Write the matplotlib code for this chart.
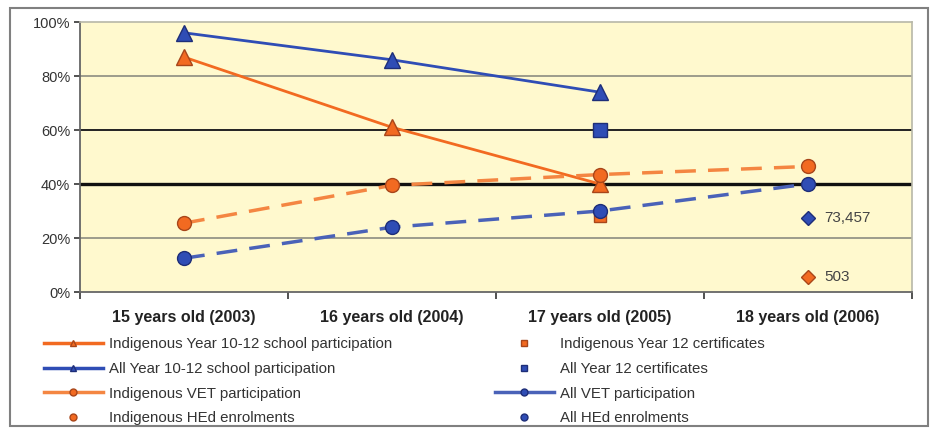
import matplotlib
matplotlib.use("Agg")
import matplotlib.pyplot as plt
from matplotlib.lines import Line2D
from matplotlib.patches import Rectangle
import numpy as np

plt.rcParams['font.family'] = ['Liberation Sans', 'DejaVu Sans']

categories = ["15 years old (2003)", "16 years old (2004)", "17 years old (2005)", "18 years old (2006)"]
y_ticks = [0, 20, 40, 60, 80, 100]

ind_y1012 = [87, 61, 40]           # 2003-2005
all_y1012 = [96, 86, 74]           # 2003-2005
ind_y12_cert = [28]                # 2005
all_y12_cert = [60]                # 2005
ind_vet = [25.5, 39.5, 43.5, 46.5] # 2003-2006
all_vet = [12.5, 24, 30, 40]       # 2003-2006
ind_hed = [5.5]                    # 2006
all_hed = [27.5]                   # 2006
ind_hed_label = "503"
all_hed_label = "73,457"

ORANGE = "#F26A21"
ORANGE_L = "#F48642"
BLUE = "#2F4DB5"
BLUE_L = "#4A62B8"
EDGE_O = "#A8461A"
EDGE_B = "#1E2E78"

fig = plt.figure(figsize=(9.31, 4.28), dpi=100)
fig.patch.set_facecolor("white")
fig.patches.append(Rectangle((10/931, 2/428), 918/931, 418/428, transform=fig.transFigure,
                             fill=False, edgecolor="#808080", linewidth=1.5))

ax = fig.add_axes([80/931, (428-292)/428, (912-80)/931, (292-22)/428])
ax.set_facecolor("#FFF9CE")
ax.set_xlim(0, 4)
ax.set_ylim(0, 100)

# gridlines
ax.axhline(20, color="#8C8C80", lw=1.2, zorder=1)
ax.axhline(80, color="#8C8C80", lw=1.2, zorder=1)
ax.axhline(60, color="#222222", lw=1.4, zorder=1)
ax.axhline(40, color="#111111", lw=2.4, zorder=1)

x = np.arange(len(categories)) + 0.5

ax.plot(x[:3], ind_y1012, color=ORANGE, lw=2, marker="^", ms=11, mfc=ORANGE, mec=EDGE_O, zorder=3)
ax.plot(x[:3], all_y1012, color=BLUE, lw=2, marker="^", ms=11, mfc=BLUE, mec=EDGE_B, zorder=3)
ax.plot(x[2:3], ind_y12_cert, ls="none", marker="s", ms=9, mfc=ORANGE, mec=EDGE_O, zorder=3)
ax.plot(x[2:3], all_y12_cert, ls="none", marker="s", ms=10, mfc=BLUE, mec=EDGE_B, zorder=3)
ax.plot(x, ind_vet, color=ORANGE_L, lw=2.5, ls=(0, (6, 3.5)), marker="o", ms=10, mfc=ORANGE, mec=EDGE_O, zorder=4)
ax.plot(x, all_vet, color=BLUE_L, lw=2.5, ls=(0, (6, 3.5)), marker="o", ms=10, mfc=BLUE, mec=EDGE_B, zorder=4)
ax.plot(x[3:], ind_hed, ls="none", marker="D", ms=7.5, mfc=ORANGE, mec=EDGE_O, zorder=3)
ax.plot(x[3:], all_hed, ls="none", marker="D", ms=7.5, mfc=BLUE, mec=EDGE_B, zorder=3)
ax.annotate(all_hed_label, (x[3], all_hed[0]), xytext=(12, 0), textcoords="offset points",
            va="center", ha="left", fontsize=11, color="#444444")
ax.annotate(ind_hed_label, (x[3], ind_hed[0]), xytext=(12, 0), textcoords="offset points",
            va="center", ha="left", fontsize=11, color="#444444")

ax.set_yticks(y_ticks)
ax.set_yticklabels([f"{v}%" for v in y_ticks], fontsize=10.5, color="#333333")
ax.set_xticks(np.arange(0, 5))
ax.set_xticklabels([])
ax.set_xticks(x, minor=True)
ax.set_xticklabels(categories, minor=True, fontsize=11.5, fontweight="bold", color="#222222")
ax.tick_params(axis="x", which="minor", length=0, pad=13)
ax.tick_params(axis="x", which="major", length=5, color="#333333", width=1.2)
ax.tick_params(axis="y", length=4, color="#333333", width=1.2, pad=3)
for s in ["top", "right"]:
    ax.spines[s].set_color("#B8B8A8")
    ax.spines[s].set_linewidth(1.2)
for s in ["left", "bottom"]:
    ax.spines[s].set_color("#666666")
    ax.spines[s].set_linewidth(1.3)

# legends
left_handles = [
    Line2D([], [], color=ORANGE, lw=2.5, marker="^", ms=5, mfc=ORANGE, mec=EDGE_O),
    Line2D([], [], color=BLUE, lw=2.5, marker="^", ms=5, mfc=BLUE, mec=EDGE_B),
    Line2D([], [], color=ORANGE_L, lw=2.5, marker="o", ms=5, mfc=ORANGE, mec=EDGE_O),
    Line2D([], [], ls="none", marker="o", ms=5, mfc=ORANGE, mec=EDGE_O),
]
left_labels = ["Indigenous Year 10-12 school participation", "All Year 10-12 school participation",
               "Indigenous VET participation", "Indigenous HEd enrolments"]
right_handles = [
    Line2D([], [], ls="none", marker="s", ms=5, mfc=ORANGE, mec=EDGE_O),
    Line2D([], [], ls="none", marker="s", ms=5, mfc=BLUE, mec=EDGE_B),
    Line2D([], [], color=BLUE_L, lw=2.5, marker="o", ms=5, mfc=BLUE, mec=EDGE_B),
    Line2D([], [], ls="none", marker="o", ms=5, mfc=BLUE, mec=EDGE_B),
]
right_labels = ["Indigenous Year 12 certificates", "All Year 12 certificates",
                "All VET participation", "All HEd enrolments"]

common = dict(frameon=False, fontsize=10.8, handlelength=3.9, handletextpad=0.45,
              labelspacing=0.72, borderpad=0, borderaxespad=0, labelcolor="#333333")
leg1 = fig.legend(left_handles, left_labels, loc="upper left",
                  bbox_to_anchor=(44/931, (428-337)/428), **common)
leg2 = fig.legend(right_handles, right_labels, loc="upper left",
                  bbox_to_anchor=(495/931, (428-337)/428), **common)

fig.savefig("out.png", dpi=100, facecolor="white")
